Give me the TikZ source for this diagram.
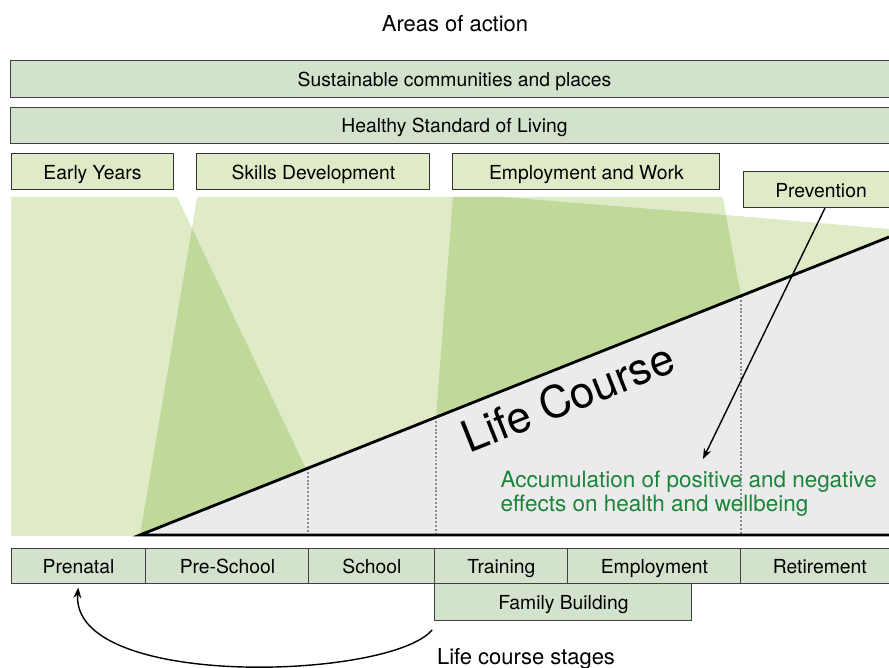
\documentclass[tikz,border=0pt]{standalone}
\usepackage{fontspec}
\setmainfont{TeX Gyre Heros}
\usepackage{xcolor}
\usetikzlibrary{arrows.meta,positioning}
\definecolor{boxgreen}{RGB}{211,226,205}
\definecolor{areagreen}{RGB}{223,234,199}
\definecolor{darkgreen}{RGB}{192,217,154}
\definecolor{coursegray}{RGB}{235,235,235}
\definecolor{textgreen}{RGB}{28,132,58}

\begin{document}
\begin{tikzpicture}[x=0.02cm,y=-0.02cm,>={Stealth[length=6pt,width=4.5pt]},line width=0.2mm]
  \tikzstyle{bandbox} = [draw=black!75,fill=boxgreen,minimum width=17.78cm,minimum height=0.73cm,inner sep=0pt,outer sep=0pt,text height=9pt,text depth=1pt,font=\fontsize{11}{13}\selectfont]
  \tikzstyle{areabox} = [draw=black!80,fill=areagreen,minimum height=0.72cm,inner sep=0pt,outer sep=0pt,text height=9pt,text depth=1pt,font=\fontsize{11}{13}\selectfont]
  \tikzstyle{stagebox} = [draw=black!75,fill=boxgreen,minimum height=0.72cm,inner sep=0pt,outer sep=0pt,text height=9pt,text depth=1pt,font=\fontsize{11}{13}\selectfont]
  \tikzstyle{courseline} = [draw,line width=1.6pt,line join=miter]
  \tikzstyle{stageline} = [draw,black!45,line width=1.4pt,dash pattern=on 1.1pt off 1.1pt]
  \useasboundingbox (0,0) rectangle (889,668);

  \fill[areagreen] (11,197) -- (177,197) -- (192,228) -- (197,197) -- (723,197) -- (726,215) -- (889,229) -- (889,536) -- (11,536) -- cycle;
  \fill[darkgreen] (192,228) -- (140,535) -- (306,469) -- cycle;
  \fill[darkgreen] (453,197) -- (503,197) -- (726,215) -- (741,296) -- (436,417) -- cycle;

  \coordinate (apex) at (140,535);
  \coordinate (lctop) at (889,237);
  \coordinate (lcend) at (889,535);
  \fill[coursegray] (apex) -- (lctop) -- (lcend) -- cycle;
  \foreach \x/\y in {308/468,436/417,741/296}
    \draw[stageline] (\x,\y) -- (\x,535);
  \draw[courseline] (lctop) -- (apex) -- (lcend);

  \node[rotate=21.7,font=\fontsize{25}{30}\selectfont] (lc) at (568,397) {Life Course};
  \node[anchor=west,align=left,text=textgreen,inner sep=0pt,font=\fontsize{12.8}{13.8}\selectfont] (acc) at (500,494) {Accumulation of positive and negative\\effects on health and wellbeing};

  \node[font=\fontsize{12.5}{15}\selectfont] (title) at (455,24) {Areas of action};
  \node[bandbox] (sus) at (454.5,79) {Sustainable communities and places};
  \node[bandbox] (hsl) at (454.5,125.5) {Healthy Standard of Living};

  \node[areabox,minimum width=3.26cm] (early) at (92.5,172) {Early Years};
  \node[areabox,minimum width=4.66cm] (skills) [right=0.46cm of early] {Skills Development};
  \node[areabox,minimum width=5.34cm] (work) [right=0.46cm of skills] {Employment and Work};
  \node[areabox,minimum width=3.12cm] (prev) at (821,190) {Prevention};

  \node[stagebox,minimum width=2.7cm] (prenatal) at (78.5,566) {Prenatal};
  \node[stagebox,minimum width=3.26cm] (preschool) [right=0pt of prenatal] {Pre-School};
  \node[stagebox,minimum width=2.52cm] (school) [right=0pt of preschool] {School};
  \node[stagebox,minimum width=2.66cm] (training) [right=0pt of school] {Training};
  \node[stagebox,minimum width=3.46cm] (employ) [right=0pt of training] {Employment};
  \node[stagebox,minimum width=3.16cm] (retire) [right=0pt of employ] {Retirement};
  \node[stagebox,minimum width=5.14cm,minimum height=0.74cm] (family) [below right=0pt of training.south west] {Family Building};

  \node[font=\fontsize{12.5}{15}\selectfont] (stages) at (526,659) {Life course stages};

  \coordinate (hit) at (703,459);
  \coordinate (loop) at (432,630);
  \draw[->,line width=0.8pt] ([xshift=0.08cm]prev.south) -- (hit);
  \draw[->,line width=0.8pt,shorten >=2pt] (loop) .. controls (390,680) and (70,690) .. (prenatal.south);
\end{tikzpicture}
\end{document}
